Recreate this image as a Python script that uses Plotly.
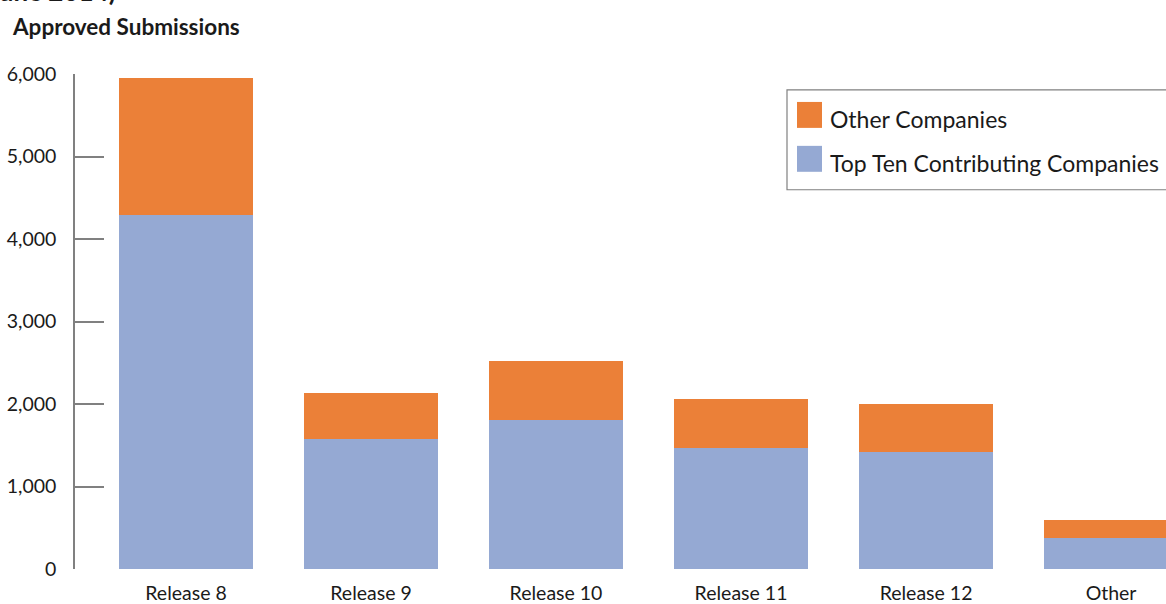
import plotly.graph_objects as go

categories = ["Release 8", "Release 9", "Release 10", "Release 11", "Release 12", "Other"]
top_ten = [4295, 1573, 1802, 1464, 1415, 375]
other_companies = [1657, 556, 714, 592, 581, 218]
y_ticks = [0, 1000, 2000, 3000, 4000, 5000, 6000]
y_tick_labels = ["0", "1,000", "2,000", "3,000", "4,000", "5,000", "6,000"]

ORANGE = "#EB8038"
BLUE = "#95A9D3"
FONT = "Lato"
TXT = "#1a1a1a"

W, H = 1166, 604
L, R, T, B = 75, 1166, 74, 570


def px(x):
    return (x - L) / (R - L)


def py(y):
    return (B - y) / (B - T)


fig = go.Figure()
fig.add_trace(go.Bar(x=categories, y=top_ten, name="Top Ten Contributing Companies",
                     marker=dict(color=BLUE, line=dict(width=0)), showlegend=False))
fig.add_trace(go.Bar(x=categories, y=other_companies, name="Other Companies",
                     marker=dict(color=ORANGE, line=dict(width=0)), showlegend=False))

shapes = [
    dict(type="rect", xref="paper", yref="paper", x0=px(787), x1=px(1230), y0=py(190), y1=py(90),
         line=dict(color="#808080", width=1.2), fillcolor="white", layer="above"),
    dict(type="rect", xref="paper", yref="paper", x0=px(797), x1=px(822), y0=py(128), y1=py(102),
         line=dict(width=0), fillcolor=ORANGE, layer="above"),
    dict(type="rect", xref="paper", yref="paper", x0=px(797), x1=px(822), y0=py(172), y1=py(146),
         line=dict(width=0), fillcolor=BLUE, layer="above"),
]

annotations = [
    dict(text="Other Companies", xref="paper", yref="paper", x=px(828), y=py(119),
         xanchor="left", yanchor="middle", showarrow=False, font=dict(family=FONT, size=23, color=TXT)),
    dict(text="Top Ten Contributing Companies", xref="paper", yref="paper", x=px(828), y=py(163),
         xanchor="left", yanchor="middle", showarrow=False, font=dict(family=FONT, size=23, color=TXT)),
    dict(text="<b>Approved Submissions</b>", xref="paper", yref="paper", x=px(10), y=py(26),
         xanchor="left", yanchor="middle", showarrow=False, font=dict(family=FONT, size=22.5, color=TXT)),
    dict(text="<b>June 2014)</b>", xref="paper", yref="paper", x=px(-14), y=py(9),
         xanchor="left", yanchor="bottom", showarrow=False, font=dict(family=FONT, size=26, color=TXT)),
]

fig.update_layout(
    barmode="stack",
    bargap=0.276,
    width=W, height=H, autosize=False,
    margin=dict(l=L, r=W - R, t=T, b=H - B - 2, pad=0),
    paper_bgcolor="white", plot_bgcolor="white",
    font=dict(family=FONT, size=19.5, color=TXT),
    shapes=shapes,
    annotations=annotations,
    showlegend=False,
)
fig.update_xaxes(range=[-0.6, 5.297], showline=False, showgrid=False, zeroline=False,
                 ticks="", tickfont=dict(family=FONT, size=19.5, color=TXT), ticklabelstandoff=10)
fig.update_yaxes(range=[0, 6000], tickvals=y_ticks, ticktext=y_tick_labels,
                 showline=True, linecolor="#808080", linewidth=1.5,
                 ticks="inside", ticklen=29, tickwidth=1.5, tickcolor="#808080",
                 showgrid=False, zeroline=False, ticklabelstandoff=13,
                 tickfont=dict(family=FONT, size=19.5, color=TXT))

fig.write_html("out.html")
